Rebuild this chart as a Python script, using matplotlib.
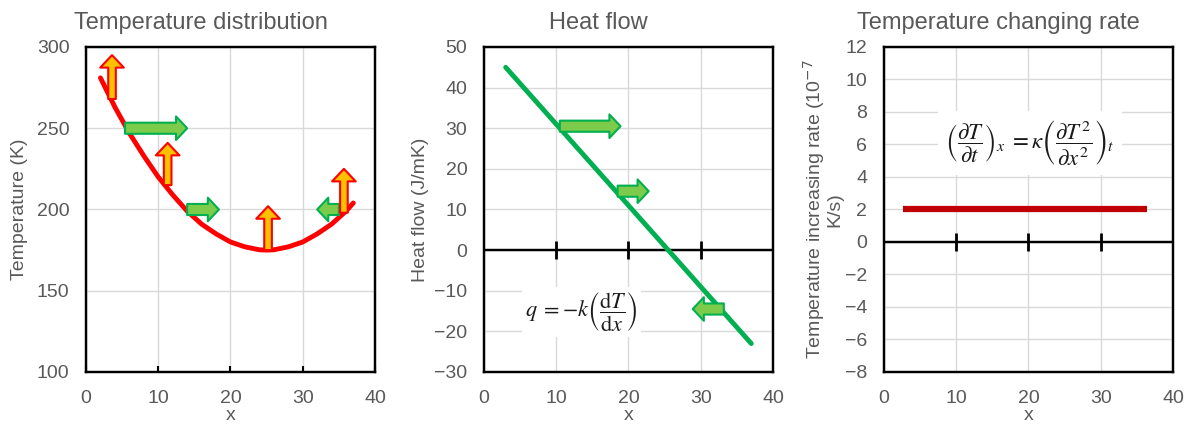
import matplotlib
matplotlib.use('Agg')
import matplotlib.pyplot as plt

plt.rcParams['font.family'] = ['Liberation Sans', 'DejaVu Sans']

grey = '#595959'

# temperature distribution
x_T = [2, 4, 6, 8, 10, 12, 14, 16, 18, 20, 22, 24, 25, 26, 28, 30, 32, 34, 36, 37]
T = [281, 263, 247, 233, 220, 209, 199, 191, 185, 180, 177, 175.2, 175, 175.2, 177, 180, 185, 191, 199, 204]

# heat flow
x_q = [3, 37]
q = [45, -23]

# temperature changing rate
x_r = [2.6, 36.4]
rate = [2, 2]

# arrows on panel 1
up_x = [3.6, 11.3, 25.2, 35.7]
up_y0 = [268, 215, 175, 198]
up_y1 = [295, 241, 202, 225]
flow1_x0 = [5.4, 14.0, 35.0]
flow1_x1 = [14.0, 18.4, 32.0]
flow1_y = [250, 200, 200]

# arrows on panel 2
flow2_x0 = [10.5, 18.5, 33.2]
flow2_x1 = [18.9, 22.8, 28.9]
flow2_y = [30.5, 14.5, -14.5]

xticks = [0, 10, 20, 30, 40]

fig = plt.figure(figsize=(11.98, 4.26), dpi=100)
w, h = 0.2412, 0.7629
ax1 = fig.add_axes([0.0718, 0.1268, w, h])
ax2 = fig.add_axes([0.404, 0.1268, w, h])
ax3 = fig.add_axes([0.7379, 0.1268, w, h])


def style(ax, title, ylabel, yticks, lpad=6):
    ax.set_xlim(0, 40)
    ax.set_ylim(yticks[0], yticks[-1])
    ax.set_xticks(xticks)
    ax.set_yticks(yticks)
    ax.grid(color='#d9d9d9', linewidth=1)
    ax.set_axisbelow(True)
    for s in ax.spines.values():
        s.set_linewidth(1.75)
    ax.tick_params(axis='y', length=0, pad=12, labelsize=14, labelcolor=grey)
    ax.tick_params(axis='x', pad=13, labelsize=14, labelcolor=grey)
    ax.set_title(title, fontsize=17, color=grey, x=0.396, pad=13)
    ax.set_xlabel('x', fontsize=14, color=grey, labelpad=0)
    ax.set_ylabel(ylabel, fontsize=14, color=grey, labelpad=lpad, linespacing=1.0)


def arrow(ax, x0, y0, x1, y1, fc, ec, style):
    ax.annotate('', xy=(x1, y1), xytext=(x0, y0),
                arrowprops=dict(arrowstyle=style, fc=fc, ec=ec, lw=1.5,
                                shrinkA=0, shrinkB=0), zorder=4)


def zero_axis(ax):
    # horizontal axis through y=0 with its own tick marks
    ax.tick_params(axis='x', length=0)
    ax.axhline(0, color='black', lw=1.75, zorder=2)
    inner = xticks[1:-1]
    ax.plot(inner, [0] * len(inner), ls='none', marker='|', ms=13, mew=2,
            color='black', zorder=2)


up_style = 'simple,head_length=0.9,head_width=1.7,tail_width=0.55'
flow_style = 'simple,head_length=0.8,head_width=1.7,tail_width=0.8'

# panel 1
style(ax1, 'Temperature distribution', 'Temperature (K)', [100, 150, 200, 250, 300])
ax1.tick_params(axis='x', direction='in', length=4.5, width=1.5)
ax1.plot(x_T, T, color='#ff0000', lw=3.5, solid_capstyle='round', zorder=3)
for x0, x1, y in zip(flow1_x0, flow1_x1, flow1_y):
    arrow(ax1, x0, y, x1, y, '#7ccb4a', '#00b050', flow_style)
for x, y0, y1 in zip(up_x, up_y0, up_y1):
    arrow(ax1, x, y0, x, y1, '#ffc000', '#ff0000', up_style)

# panel 2
style(ax2, 'Heat flow', 'Heat flow (J/mK)', [-30, -20, -10, 0, 10, 20, 30, 40, 50], lpad=4)
zero_axis(ax2)
ax2.plot(x_q, q, color='#00b050', lw=3.5, solid_capstyle='round', zorder=3)
for x0, x1, y in zip(flow2_x0, flow2_x1, flow2_y):
    arrow(ax2, x0, y, x1, y, '#7ccb4a', '#00b050', flow_style)
ax2.text(13.5, -15.2, r'$q\;=-k\left(\dfrac{\mathrm{d}T}{\mathrm{d}x}\right)$',
         fontsize=16, ha='center', va='center', math_fontfamily='stix',
         color='#1a1a1a', zorder=2,
         bbox=dict(fc='white', ec='none', boxstyle='square,pad=0.15'))

# panel 3
style(ax3, 'Temperature changing rate',
      'Temperature increasing rate (10$^{-7}$\nK/s)',
      [-8, -6, -4, -2, 0, 2, 4, 6, 8, 10, 12], lpad=1)
zero_axis(ax3)
ax3.plot(x_r, rate, color='#c00000', lw=4.5, solid_capstyle='butt', zorder=3)
ax3.text(20.2, 6.1,
         r'$\left(\dfrac{\partial T}{\partial t}\right)_{x}\;=\kappa\left(\dfrac{\partial T^2}{\partial x^2}\right)_{t}$',
         fontsize=16.5, ha='center', va='center', math_fontfamily='stix',
         color='#1a1a1a', zorder=2,
         bbox=dict(fc='white', ec='none', boxstyle='square,pad=0.3'))

fig.savefig('out.png', dpi=100)
